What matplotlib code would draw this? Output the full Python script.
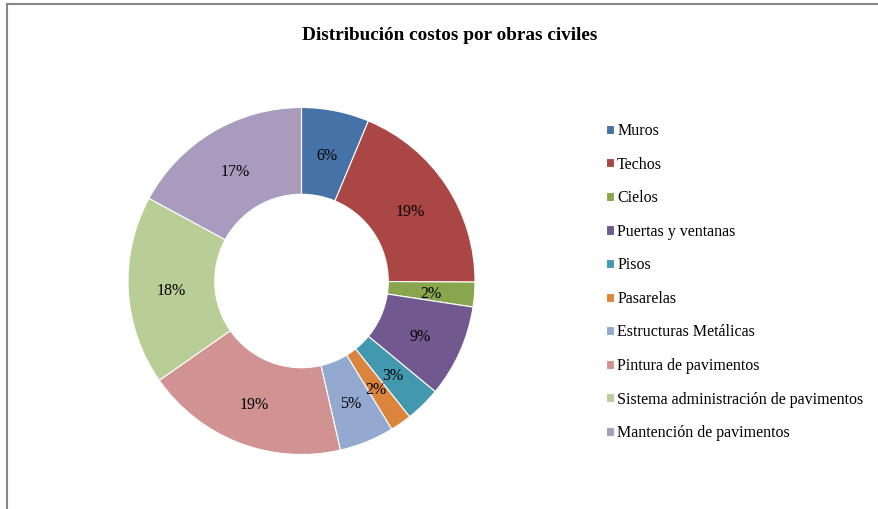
import matplotlib
matplotlib.use("Agg")
import matplotlib.pyplot as plt
from matplotlib.lines import Line2D

# data (percent of total cost)
categorias = ["Muros", "Techos", "Cielos", "Puertas y ventanas", "Pisos",
              "Pasarelas", "Estructuras Metálicas", "Pintura de pavimentos",
              "Sistema administración de pavimentos", "Mantención de pavimentos"]
valores = [6.3, 18.8, 2.3, 8.6, 3.3, 2.0, 5.1, 18.9, 17.6, 17.1]
colores = ["#4572A7", "#AA4643", "#89A54E", "#71588F", "#4198AF",
           "#DB843D", "#93A9CF", "#D19392", "#B9CD96", "#A99BBD"]

plt.rcParams['font.family'] = ['Liberation Serif', 'DejaVu Serif']

W, H = 879, 509
fig = plt.figure(figsize=(W / 100, H / 100), dpi=100)

# donut axes: center (301.5, 281) px, outer radius ~173.5 px
cx, cy, r = 301.5, 281, 173.5
half = 180
ax = fig.add_axes([(cx - half) / W, (H - cy - half) / H, 2 * half / W, 2 * half / H])
wedges, textos, pcts = ax.pie(valores, colors=colores, startangle=90, counterclock=False,
                              radius=1, autopct='%.0f%%', pctdistance=0.75,
                              wedgeprops=dict(width=0.5, edgecolor='white', linewidth=0.8),
                              textprops=dict(fontsize=11.5, color='black'))
# labels sit a little lower in the original
for t in pcts:
    x, y = t.get_position()
    t.set_position((x, y - 0.015))
lim = half / r
ax.set_xlim(-lim, lim)
ax.set_ylim(-lim, lim)
ax.set_aspect('equal')
ax.axis('off')

fig.text(449.5 / W, 1 - 36 / H, "Distribución costos por obras civiles",
         ha='center', va='center', fontsize=13.9, fontweight='bold')

leg = fig.legend(wedges, categorias, loc='upper left',
                 bbox_to_anchor=(598 / W, 1 - 115 / H), frameon=False,
                 fontsize=11.5, handlelength=0.5, handleheight=0.5,
                 handletextpad=0.2, labelspacing=1.1, borderpad=0)

# chart frame (gray line at left and top, cut off at right/bottom)
gris = "#878787"
fig.add_artist(Line2D([7.5 / W, 7.5 / W], [0, 1 - 3.5 / H], color=gris, lw=1.5,
                      transform=fig.transFigure))
fig.add_artist(Line2D([7.5 / W, 1], [1 - 3.5 / H, 1 - 3.5 / H], color=gris, lw=1.5,
                      transform=fig.transFigure))

fig.savefig("out.png", dpi=100, facecolor='white')
